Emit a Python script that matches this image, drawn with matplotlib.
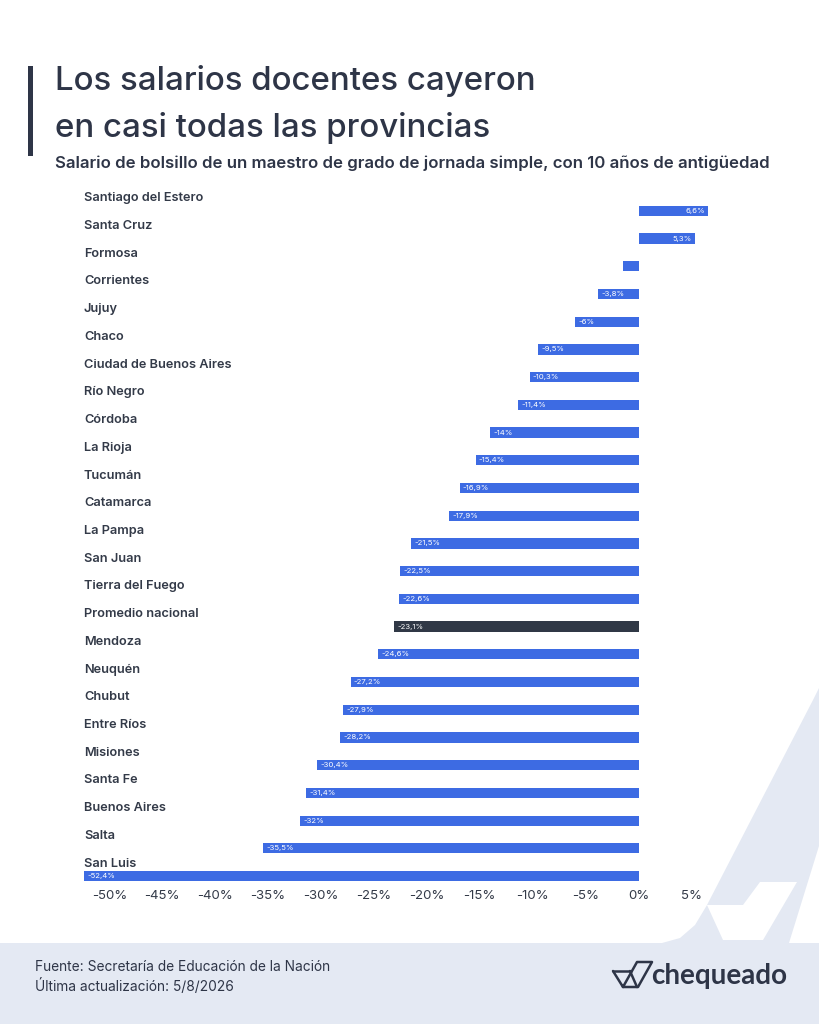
import matplotlib
matplotlib.use("Agg")
import matplotlib.pyplot as plt
from matplotlib.patches import Polygon, Rectangle
from matplotlib.lines import Line2D

provinces = ["Santiago del Estero", "Santa Cruz", "Formosa", "Corrientes", "Jujuy",
             "Chaco", "Ciudad de Buenos Aires", "Río Negro", "Córdoba", "La Rioja",
             "Tucumán", "Catamarca", "La Pampa", "San Juan", "Tierra del Fuego",
             "Promedio nacional", "Mendoza", "Neuquén", "Chubut", "Entre Ríos",
             "Misiones", "Santa Fe", "Buenos Aires", "Salta", "San Luis"]
values = [6.6, 5.3, -1.5, -3.8, -6, -9.5, -10.3, -11.4, -14, -15.4, -16.9, -17.9,
          -21.5, -22.5, -22.6, -23.1, -24.6, -27.2, -27.9, -28.2, -30.4, -31.4,
          -32, -35.5, -52.4]
ticks = [-50, -45, -40, -35, -30, -25, -20, -15, -10, -5, 0, 5]
highlight = "Promedio nacional"

W, H = 819, 1024
BLUE = "#3d6be3"
DARK = "#303846"
NAVY = "#2e3547"
LIGHT = "#e4e9f3"
FONT = "Inter"

fig = plt.figure(figsize=(W / 100, H / 100), dpi=100, facecolor=LIGHT)

def P(x, y):
    return (x / W, 1 - y / H)

def poly(pts, color, z=-10):
    fig.add_artist(Polygon([P(*p) for p in pts], closed=True, facecolor=color,
                           edgecolor="none", transform=fig.transFigure, zorder=z))

# white card with diagonal cut
card = [(0, 0), (W, 0), (W, 688), (813, 700), (707, 905), (695, 925), (680, 938),
        (662, 943), (0, 943)]
poly(card, "white")
# white check pieces inside the light band
poly([(707, 905), (743, 905), (760, 882), (797, 882), (763, 940), (723, 940)], "white")
poly([(W, 846), (W, 943), (789, 943)], "white")

# axes
x0, x1 = -52.4, 7.7
ax = fig.add_axes([84 / W, 1 - 883 / H, (720 - 84) / W, (883 - 190) / H])
ax.set_facecolor("none")
n = len(provinces)
ypos = list(range(n))
colors = [DARK if p == highlight else BLUE for p in provinces]
ax.barh(ypos, values, height=0.37, color=colors, zorder=2)
ax.set_xlim(x0, x1)
ax.set_ylim(n - 0.75, -0.75)
ax.set_yticks([])
ax.set_xticks(ticks)
ax.set_xticklabels([f"{t}%" for t in ticks], fontsize=9.5, color="#333a48",
                   family=FONT)
ax.tick_params(axis="x", length=0, pad=5)
for s in ax.spines.values():
    s.set_visible(False)

for i, (p, v) in enumerate(zip(provinces, values)):
    ax.text(x0, i - 0.45, p, ha="left", va="center", fontsize=9.2,
            fontweight="semibold", color="#333a48", family=FONT)
    lab = f"{v:g}%".replace(".", ",")
    if abs(v) < 2:
        continue
    if v >= 0:
        ax.text(v - 0.3, i, lab, ha="right", va="center", fontsize=5.6,
                color="white", family=FONT, zorder=3)
    else:
        ax.text(v + 0.3, i, lab, ha="left", va="center", fontsize=5.6,
                color="white", family=FONT, zorder=3)

# title block
fig.add_artist(Rectangle(P(28, 156), 5 / W, 90 / H, transform=fig.transFigure,
                         facecolor=NAVY, edgecolor="none"))
fig.text(55 / W, 1 - 81 / H, "Los salarios docentes cayeron", fontsize=23.8,
         fontweight="medium", color=NAVY, va="center", ha="left", family=FONT)
fig.text(55 / W, 1 - 128 / H, "en casi todas las provincias", fontsize=23.8,
         fontweight="medium", color=NAVY, va="center", ha="left", family=FONT)
fig.text(55 / W, 1 - 163 / H,
         "Salario de bolsillo de un maestro de grado de jornada simple, con 10 años de antigüedad",
         fontsize=12.1, fontweight="semibold", color=NAVY, va="center", ha="left",
         family=FONT)

# footer
fig.text(35 / W, 1 - 967 / H, "Fuente: Secretaría de Educación de la Nación",
         fontsize=9.9, color=NAVY, va="center", ha="left", family=FONT)
fig.text(35 / W, 1 - 986 / H, "Última actualización: 5/8/2026",
         fontsize=9.9, color=NAVY, va="center", ha="left", family=FONT)

# logo
fig.text(651 / W, 1 - 976 / H, "chequeado", fontsize=20, fontweight="bold",
         color=NAVY, va="center", ha="left", family="Lato")
icon = [[(613, 971), (631, 971)], [(613, 971), (623, 987), (638, 987), (652, 962),
         (637, 962), (623, 987)], [(630, 971), (637, 987)]]
for seg in icon:
    xs = [P(*p)[0] for p in seg]
    ys = [P(*p)[1] for p in seg]
    fig.add_artist(Line2D(xs, ys, color=NAVY, lw=1.8, transform=fig.transFigure,
                          solid_joinstyle="round", solid_capstyle="round"))

fig.savefig("out.png", dpi=100, facecolor=LIGHT)
